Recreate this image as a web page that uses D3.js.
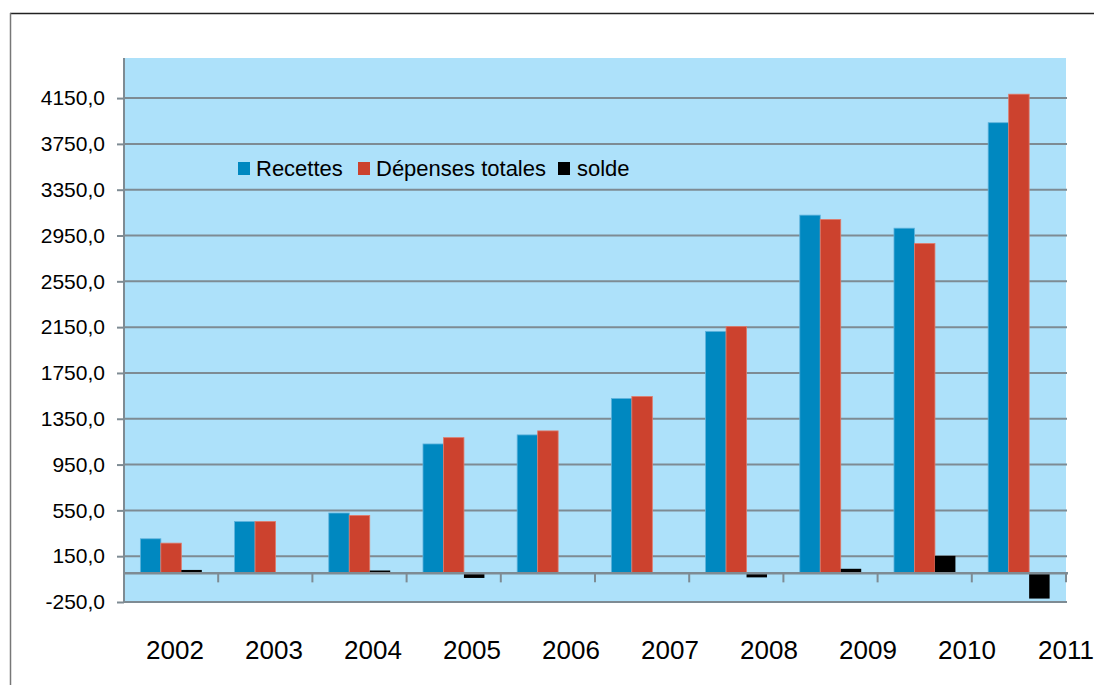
<!DOCTYPE html>
<html>
<head>
<meta charset="utf-8">
<script src="https://cdn.jsdelivr.net/npm/d3@7"></script>
<style>
  html, body { margin: 0; padding: 0; background: #fff; }
  svg { display: block; font-family: "Liberation Sans", Arial, sans-serif; }
</style>
</head>
<body>
<svg id="chart" width="1094" height="685"></svg>
<script>
// ---- data ----
const years = ["2002","2003","2004","2005","2006","2007","2008","2009","2010","2011"];
const recettes = [302, 453, 527, 1130, 1209, 1527, 2113, 3128, 3014, 3935];
const depenses = [264, 453, 506, 1185, 1244, 1544, 2155, 3090, 2880, 4184];
const solde    = [30, 0, 25, -40, 0, 0, -35, 40, 153, -220];
const seriesNames = ["Recettes", "Dépenses totales", "solde"];
const seriesColors = ["#0088c0", "#cc422e", "#000000"];
const yTicks = [-250, 150, 550, 950, 1350, 1750, 2150, 2550, 2950, 3350, 3750, 4150];

(function () {
const svg = d3.select("#chart");
const pL = 124, pR = 1066, pT = 58, pB = 602;

// outer frame
svg.append("line").attr("x1", 10).attr("x2", 1094).attr("y1", 13.5).attr("y2", 13.5)
  .attr("stroke", "#222").attr("stroke-width", 1.5);
svg.append("line").attr("x1", 10.5).attr("x2", 10.5).attr("y1", 13).attr("y2", 685)
  .attr("stroke", "#777").attr("stroke-width", 1.5);

// scales
const x0 = d3.scaleBand().domain(years).range([pL, pR]).paddingInner(0).paddingOuter(0);
const x1 = d3.scaleBand().domain(seriesNames).range([0, x0.bandwidth()]).paddingInner(0).paddingOuter(0.8);
const y = d3.scaleLinear().domain([-250, 4500]).range([pB, pT]);
const xLab = d3.scalePoint().domain(years).range([175, 1066]);

// plot background
svg.append("rect").attr("x", pL).attr("y", pT).attr("width", pR - pL).attr("height", pB - pT)
  .attr("fill", "#ade1fa");

// gridlines
svg.append("g").selectAll("line").data(yTicks).join("line")
  .attr("x1", pL).attr("x2", pR + 1)
  .attr("y1", d => y(d)).attr("y2", d => y(d))
  .attr("stroke", "#7e8b93").attr("stroke-width", 2);

// bars
const table = years.map((yr, i) => ({ year: yr, values: [recettes[i], depenses[i], solde[i]] }));
const groups = svg.append("g").selectAll("g").data(table).join("g")
  .attr("transform", d => `translate(${x0(d.year)},0)`);
groups.selectAll("rect").data(d => d.values.map((v, j) => ({ v, j })).filter(e => e.v !== 0)).join("rect")
  .attr("x", e => x1(seriesNames[e.j]))
  .attr("width", x1.bandwidth())
  .attr("y", e => y(Math.max(0, e.v)))
  .attr("height", e => Math.abs(y(e.v) - y(0)))
  .attr("fill", e => seriesColors[e.j])
  .attr("stroke", e => e.j === 2 ? "none" : (e.j === 0 ? "#5fb3dc" : "#e07a6a"))
  .attr("stroke-width", 0.8);

// zero line
svg.append("line").attr("x1", pL).attr("x2", pR + 2).attr("y1", y(0)).attr("y2", y(0))
  .attr("stroke", "#7e8b93").attr("stroke-width", 2.5);
// category ticks on zero line
svg.append("g").selectAll("line").data(years).join("line")
  .attr("x1", d => x0(d) + x0.bandwidth()).attr("x2", d => x0(d) + x0.bandwidth())
  .attr("y1", y(0)).attr("y2", y(0) + 9)
  .attr("stroke", "#7e8b93").attr("stroke-width", 2);

// y axis
const loc = d3.formatLocale({ decimal: ",", thousands: "", grouping: [3], currency: ["", "€"], minus: "-" });
const fmt = loc.format(".1f");
const yAxis = d3.axisLeft(y).tickValues(yTicks).tickFormat(fmt).tickSizeInner(7).tickSizeOuter(0).tickPadding(12);
const yg = svg.append("g").attr("transform", `translate(${pL},0)`).call(yAxis);
yg.select(".domain").attr("stroke", "#7e8b93").attr("stroke-width", 2).attr("d", `M0,${pT}V${pB}`);
yg.selectAll(".tick line").attr("stroke", "#7e8b93").attr("stroke-width", 2);
yg.selectAll(".tick text").attr("font-size", 21).attr("fill", "#000")
  .attr("font-family", "'Liberation Sans', Arial, sans-serif");

// x labels
svg.append("g").selectAll("text").data(years).join("text")
  .attr("x", d => xLab(d)).attr("y", 659)
  .attr("text-anchor", "middle").attr("font-size", 26).attr("fill", "#000")
  .text(d => d);

// legend
const legendItems = [
  { name: seriesNames[0], color: seriesColors[0], sx: 238, tx: 256 },
  { name: seriesNames[1], color: seriesColors[1], sx: 358, tx: 376 },
  { name: seriesNames[2], color: seriesColors[2], sx: 558, tx: 577 }
];
const lg = svg.append("g");
lg.selectAll("rect").data(legendItems).join("rect")
  .attr("x", d => d.sx).attr("y", 162).attr("width", 12).attr("height", 13)
  .attr("fill", d => d.color);
lg.selectAll("text").data(legendItems).join("text")
  .attr("x", d => d.tx).attr("y", 176).attr("font-size", 22).attr("fill", "#000")
  .text(d => d.name);
})();
</script>
</body>
</html>
